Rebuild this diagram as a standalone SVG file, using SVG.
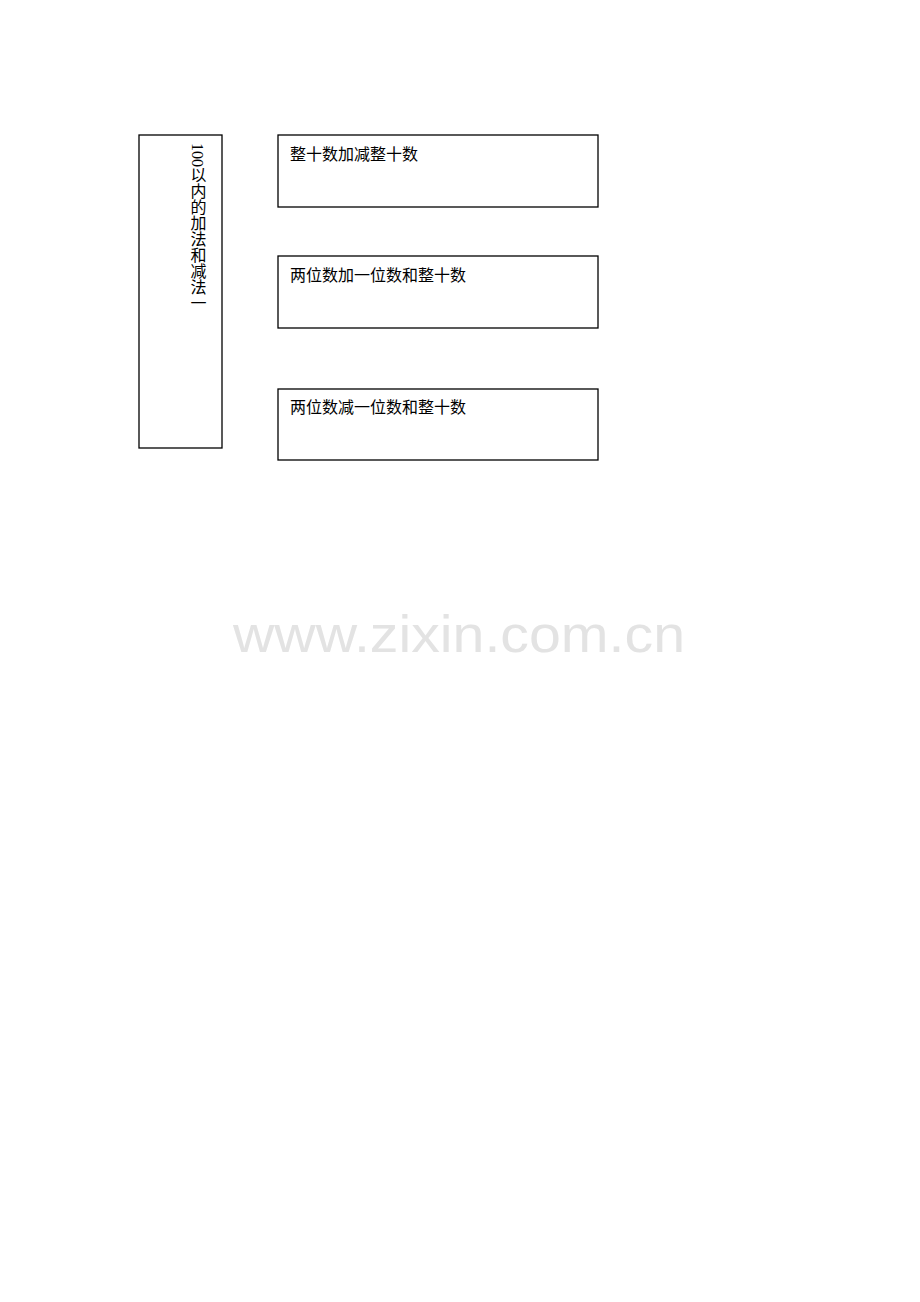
<svg xmlns="http://www.w3.org/2000/svg" width="920" height="1302" viewBox="0 0 920 1302">
<style>
.box{fill:#fff;stroke:#000;stroke-width:1.3}
.t{font-family:"Liberation Serif","Noto Sans CJK SC",serif;font-size:16px;fill:#000}
.v{writing-mode:vertical-rl;text-orientation:mixed}
.wm{font-family:"Liberation Sans",Arial,sans-serif;font-size:52px;fill:#e3e3e3}
</style>
<rect width="920" height="1302" fill="#fff"/>
<g id="connectors"></g>
<g id="root">
<rect class="box" x="139" y="135" width="83" height="313"/>
<text class="t v" x="197" y="143">100以内的加法和减法一</text>
</g>
<g id="n1">
<rect class="box" x="278" y="135" width="320" height="72"/>
<text class="t" x="290" y="160">整十数加减整十数</text>
</g>
<g id="n2">
<rect class="box" x="278" y="256" width="320" height="72"/>
<text class="t" x="290" y="281">两位数加一位数和整十数</text>
</g>
<g id="n3">
<rect class="box" x="278" y="389" width="320" height="71"/>
<text class="t" x="290" y="413">两位数减一位数和整十数</text>
</g>
<text class="wm" x="233" y="652" textLength="452" lengthAdjust="spacingAndGlyphs">www.zixin.com.cn</text>
</svg>
